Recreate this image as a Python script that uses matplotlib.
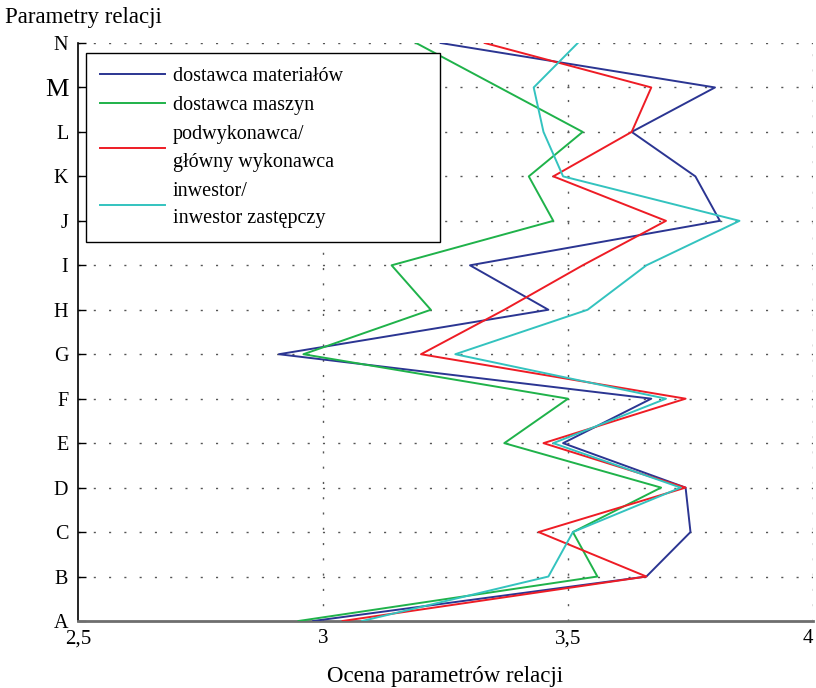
import matplotlib.pyplot as plt

plt.rcParams['font.family'] = ['Liberation Serif', 'DejaVu Serif']

params = ['A', 'B', 'C', 'D', 'E', 'F', 'G', 'H', 'I', 'J', 'K', 'L', 'M', 'N']

# ocena parametrów relacji, od A do N
dostawca_mat = [2.98, 3.66, 3.75, 3.74, 3.49, 3.67, 2.91, 3.46, 3.30, 3.81, 3.76, 3.63, 3.80, 3.24]
dostawca_masz = [2.95, 3.56, 3.51, 3.69, 3.37, 3.50, 2.96, 3.22, 3.14, 3.47, 3.42, 3.53, 3.36, 3.19]
podwykonawca = [3.04, 3.66, 3.44, 3.74, 3.45, 3.74, 3.20, 3.37, 3.53, 3.70, 3.47, 3.63, 3.67, 3.33]
inwestor = [3.08, 3.46, 3.51, 3.73, 3.47, 3.70, 3.27, 3.54, 3.66, 3.85, 3.49, 3.45, 3.43, 3.52]

labels = ['dostawca materiałów', 'dostawca maszyn',
          'podwykonawca/\ngłówny wykonawca', 'inwestor/\ninwestor zastępczy']
colors = ['#2b3592', '#1fb24a', '#ee1c25', '#33c3bf']

x_ticks = [2.5, 3, 3.5, 4]
x_ticklabels = ['2,5', '3', '3,5', '4']

fig = plt.figure(figsize=(8.16, 6.88), dpi=100)
ax = fig.add_axes([0.0956, 0.0974, 0.9007, 0.8401])

y = list(range(len(params)))
for vals, lab, c in zip([dostawca_mat, dostawca_masz, podwykonawca, inwestor], labels, colors):
    ax.plot(vals, y, color=c, lw=1.4, label=lab, zorder=3)

ax.set_xlim(2.5, 4)
ax.set_ylim(0, len(params) - 1)

# kropkowana siatka
dots = (0, (1.5, 9.5))
for yy in y[1:]:
    ax.axhline(yy, color='#555555', lw=1, ls=dots, zorder=1)
for xx in [3, 3.5, 4]:
    ax.axvline(xx, color='#555555', lw=1, ls=dots, zorder=1)

ax.set_xticks(x_ticks)
ax.set_xticklabels(x_ticklabels, fontsize=15)
ax.get_xticklabels()[-1].set_horizontalalignment('right')
ax.set_yticks(y)
ax.set_yticklabels(params, fontsize=14.5)
ax.get_yticklabels()[12].set_fontsize(19)
ax.tick_params(axis='y', direction='in', length=6, width=1, pad=7)
ax.tick_params(axis='x', length=0, pad=6)

for s in ['top', 'right']:
    ax.spines[s].set_visible(False)
ax.spines['bottom'].set_color('#6e6e6e')
ax.spines['bottom'].set_linewidth(2)
ax.spines['left'].set_linewidth(1.2)

ax.set_xlabel('Ocena parametrów relacji', fontsize=16.5, labelpad=13)
fig.text(0.006, 0.974, 'Parametry relacji', fontsize=16.5, va='center', ha='left')

leg = ax.legend(loc='upper left', bbox_to_anchor=(0.011, 0.983, 0.4816, 0.0), mode='expand',
                borderaxespad=0, fontsize=14.5, handlelength=3.2, handletextpad=0.4,
                labelspacing=0.5, fancybox=False, framealpha=1, edgecolor='black',
                borderpad=0.7)
leg.get_frame().set_linewidth(1)
for t in leg.get_texts():
    t.set_linespacing(1.6)

plt.savefig('out.png', dpi=100)
